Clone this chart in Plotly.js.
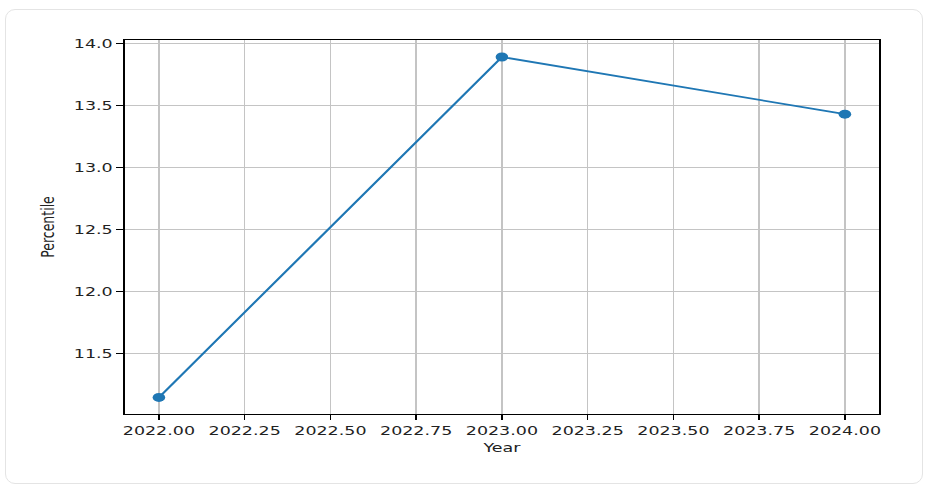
<!DOCTYPE html>
<html>
<head>
<meta charset="utf-8">
<script src="https://cdn.plot.ly/plotly-3.0.1.min.js"></script>
<style>
  html, body { margin: 0; padding: 0; background: #ffffff; width: 928px; height: 487px; overflow: hidden; }
  #card { position: absolute; left: 5px; top: 9px; width: 916px; height: 473px; border: 1px solid #e4e4e4; border-radius: 10px; background: #ffffff; }
  #chart { position: absolute; left: 0; top: 0; width: 663px; height: 487px; transform: scaleX(1.4); transform-origin: 0 0; }
</style>
</head>
<body>
<div id="card"></div>
<div id="chart"></div>
<script>
const years = [2022, 2023, 2024];
const percentile = [11.15, 13.89, 13.43];
const xTickVals = [2022.00, 2022.25, 2022.50, 2022.75, 2023.00, 2023.25, 2023.50, 2023.75, 2024.00];
const xTickText = ["2022.00", "2022.25", "2022.50", "2022.75", "2023.00", "2023.25", "2023.50", "2023.75", "2024.00"];
const yTickVals = [11.5, 12.0, 12.5, 13.0, 13.5, 14.0];
const yTickText = ["11.5", "12.0", "12.5", "13.0", "13.5", "14.0"];

const trace = {
  x: years,
  y: percentile,
  type: 'scatter',
  mode: 'lines+markers',
  line: { color: '#1f77b4', width: 1.8 },
  marker: { color: '#1f77b4', size: 9 },
  hoverinfo: 'x+y'
};

const fontFam = 'DejaVu Sans, sans-serif';
const layout = {
  width: 663,
  height: 487,
  margin: { l: 89.3, r: 35, t: 40, b: 73 },
  paper_bgcolor: 'rgba(0,0,0,0)',
  plot_bgcolor: '#ffffff',
  showlegend: false,
  font: { family: fontFam, size: 12.5, color: '#222222' },
  xaxis: {
    range: [2021.9, 2024.1],
    tickmode: 'array',
    tickvals: xTickVals,
    ticktext: xTickText,
    ticks: 'outside',
    ticklen: 5,
    tickwidth: 1,
    tickcolor: '#000000',
    showgrid: true,
    gridcolor: '#c4c4c4',
    gridwidth: 1,
    zeroline: false,
    showline: true,
    linecolor: '#000000',
    linewidth: 1,
    mirror: true,
    tickfont: { family: fontFam, size: 12.5, color: '#222222' },
    title: { text: 'Year', font: { family: fontFam, size: 12.5, color: '#222222' }, standoff: 6 }
  },
  yaxis: {
    range: [11.0165, 14.027],
    tickmode: 'array',
    tickvals: yTickVals,
    ticktext: yTickText,
    ticks: 'outside',
    ticklen: 5,
    tickwidth: 1,
    tickcolor: '#000000',
    showgrid: true,
    gridcolor: '#c4c4c4',
    gridwidth: 1,
    zeroline: false,
    showline: true,
    linecolor: '#000000',
    linewidth: 1,
    mirror: true,
    tickfont: { family: fontFam, size: 12.5, color: '#222222' },
    title: { text: 'Percentile', font: { family: fontFam, size: 12.5, color: '#222222' }, standoff: 10 }
  }
};

Plotly.newPlot('chart', [trace], layout, { displayModeBar: false, staticPlot: true });
</script>
</body>
</html>
